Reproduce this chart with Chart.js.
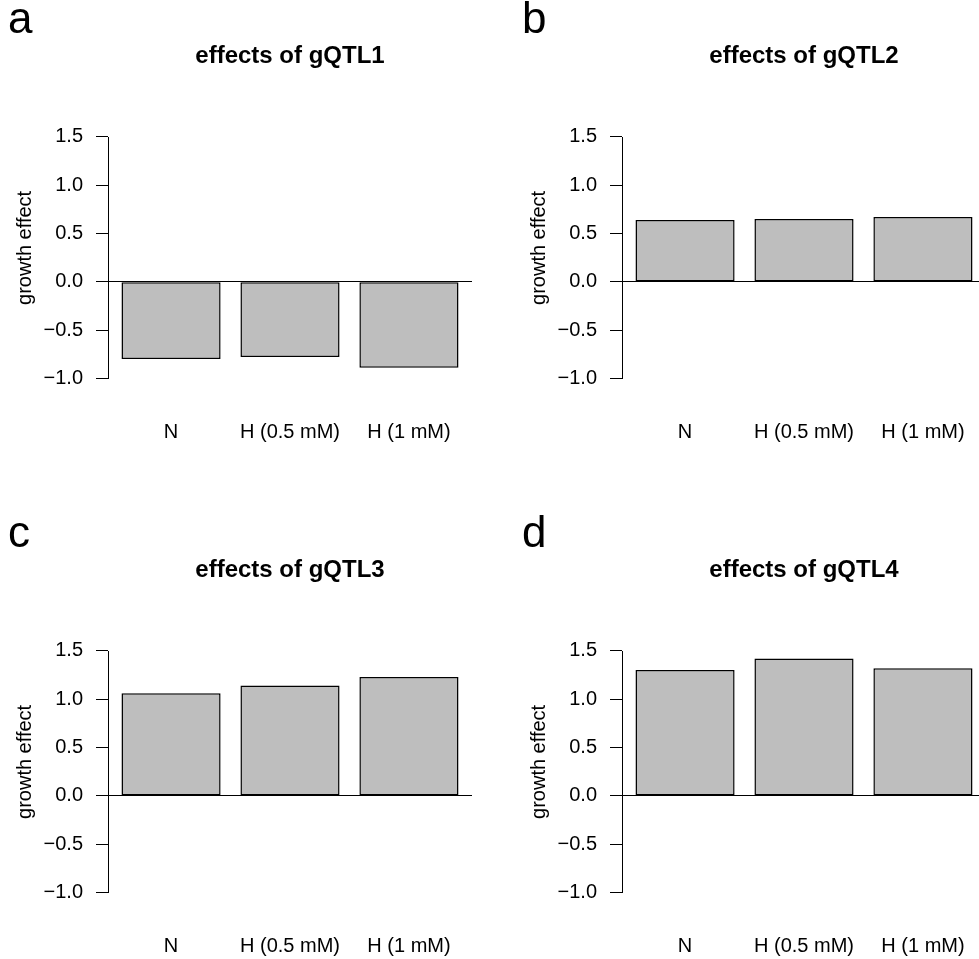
<!DOCTYPE html>
<html>
<head>
<meta charset="utf-8">
<script src="https://cdn.jsdelivr.net/npm/chart.js@4"></script>
<style>
  html, body { margin: 0; padding: 0; background: #fff; }
  body { width: 979px; height: 959px; overflow: hidden; position: relative; font-family: "Liberation Sans", Arial, Helvetica, sans-serif; }
  .painel { position: absolute; width: 514px; height: 514px; }
  .letra { position: absolute; left: 8px; top: -4px; font-size: 44px; line-height: 44px; color: #000; }
</style>
</head>
<body>
<div class="painel" style="left:0;top:0"><div class="letra">a</div><canvas id="grafico1"></canvas></div>
<div class="painel" style="left:514px;top:0"><div class="letra">b</div><canvas id="grafico2"></canvas></div>
<div class="painel" style="left:0;top:514px"><div class="letra">c</div><canvas id="grafico3"></canvas></div>
<div class="painel" style="left:514px;top:514px"><div class="letra">d</div><canvas id="grafico4"></canvas></div>
<script>
// dados
const condicoes = ["N", "H (0.5 mM)", "H (1 mM)"];
const efeitoGQTL1 = [-0.80, -0.78, -0.89];
const efeitoGQTL2 = [0.64, 0.65, 0.67];
const efeitoGQTL3 = [1.06, 1.14, 1.23];
const efeitoGQTL4 = [1.30, 1.42, 1.32];
const ticksY = [-1, -0.5, 0, 0.5, 1, 1.5];

const fonte = "'Liberation Sans', Arial, Helvetica, sans-serif";
Chart.defaults.font.family = fonte;
Chart.defaults.color = "#000";

// eixo y só de -1 a 1.5, como no R
const eixoY = {
  id: "eixoY",
  afterDatasetsDraw(chart) {
    const y = chart.scales.y;
    const ctx = chart.ctx;
    const x = Math.round(chart.chartArea.left) + 0.5;
    ctx.save();
    ctx.strokeStyle = "#000";
    ctx.lineWidth = 1;
    ctx.beginPath();
    ctx.moveTo(x, Math.round(y.getPixelForValue(ticksY[0])) + 1);
    ctx.lineTo(x, Math.round(y.getPixelForValue(ticksY[ticksY.length - 1])));
    ctx.stroke();
    ctx.restore();
  }
};

// posição das barras como no barplot (largura 1, espaço 0.2)
const centroBarra = i => 0.7 + i * 1.2;

function criarGrafico(id, titulo, valores) {
  const ctx = document.getElementById(id).getContext("2d");
  new Chart(ctx, {
    type: "bar",
    data: {
      datasets: [{
        data: valores.map((v, i) => ({ x: centroBarra(i), y: v })),
        backgroundColor: "#bebebe",
        borderColor: "#000",
        borderWidth: 1.5,
        borderSkipped: false,
        categoryPercentage: 1 / 1.2,
        barPercentage: 1
      }]
    },
    options: {
      responsive: true,
      maintainAspectRatio: false,
      animation: false,
      layout: { padding: { left: 0, right: 42, top: 0, bottom: 0 } },
      plugins: {
        legend: { display: false },
        tooltip: { enabled: false },
        title: {
          display: true,
          text: titulo,
          fullSize: false,
          color: "#000",
          font: { family: fonte, size: 24, weight: "bold" },
          padding: { top: 41.6, bottom: 26.2 }
        }
      },
      scales: {
        x: {
          type: "linear",
          offset: false,
          min: 0.064,
          max: 3.736,
          afterBuildTicks: s => { s.ticks = condicoes.map((c, i) => ({ value: centroBarra(i) })); },
          afterFit: s => { s.height = 114.8; },
          grid: { display: false },
          border: { display: false },
          ticks: {
            callback: (v, i) => condicoes[i],
            font: { family: fonte, size: 20 },
            padding: 13.5,
            maxRotation: 0,
            autoSkip: false
          }
        },
        y: {
          min: -1.216,
          max: 1.916,
          afterBuildTicks: s => { s.ticks = ticksY.map(v => ({ value: v })); },
          afterFit: s => { s.width = 108; },
          border: { display: false },
          grid: {
            color: c => (c.tick && c.tick.value === 0 ? "#000" : "rgba(0,0,0,0)"),
            tickColor: "#000",
            tickLength: 12,
            lineWidth: 1
          },
          ticks: {
            callback: v => v.toFixed(1).replace("-", "\u2212"),
            font: { family: fonte, size: 20 },
            padding: 13
          },
          title: {
            display: true,
            text: "growth effect",
            font: { family: fonte, size: 20 },
            padding: { top: 13, bottom: 0 }
          }
        }
      }
    },
    plugins: [eixoY]
  });
}

criarGrafico("grafico1", "effects of gQTL1", efeitoGQTL1);
criarGrafico("grafico2", "effects of gQTL2", efeitoGQTL2);
criarGrafico("grafico3", "effects of gQTL3", efeitoGQTL3);
criarGrafico("grafico4", "effects of gQTL4", efeitoGQTL4);
</script>
</body>
</html>
